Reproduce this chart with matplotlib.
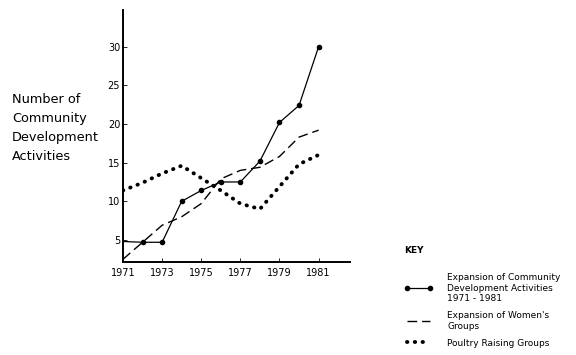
import matplotlib
matplotlib.use('Agg')
import matplotlib.pyplot as plt

# values
years = [1971, 1972, 1973, 1974, 1975, 1976, 1977, 1978, 1979, 1980, 1981]
community = [4.8, 4.7, 4.7, 10.0, 11.4, 12.5, 12.5, 15.2, 20.2, 22.4, 30.0]
womens = [2.5, 4.7, 6.9, 8.0, 9.7, 12.9, 14.0, 14.4, 15.8, 18.3, 19.2]
poultry = [11.4, 12.4, 13.6, 14.6, 13.0, 11.4, 9.7, 9.0, 11.9, 14.8, 16.0]

xticks = [1971, 1973, 1975, 1977, 1979, 1981]
yticks = [5, 10, 15, 20, 25, 30]

fig = plt.figure(figsize=(5.76, 3.55), dpi=100)
ax = fig.add_axes([0.2135, 0.262, 0.394, 0.71])

l1, = ax.plot(years, community, color='black', lw=0.9, marker='o', ms=3,
              markevery=list(range(1, len(years))), clip_on=False)
l2, = ax.plot(years, womens, color='black', lw=1.0, ls=(0, (7, 3.5)))
l3, = ax.plot(years, poultry, color='black', lw=2.8, ls=(0, (0.1, 1.9)),
              dash_capstyle='round')

ax.set_xlim(1971, 1982.6)
ax.set_ylim(2.15, 34.75)
ax.set_xticks(xticks)
ax.set_yticks(yticks)
ax.tick_params(axis='both', labelsize=7, direction='in', length=3, width=0.6, pad=4)
ax.tick_params(axis='y', pad=2)
for s in ['top', 'right']:
    ax.spines[s].set_visible(False)
for s in ['left', 'bottom']:
    ax.spines[s].set_linewidth(1.4)

fig.text(12 / 576, 1 - 93 / 355, 'Number of\nCommunity\nDevelopment\nActivities',
         fontsize=9.3, va='top', ha='left', linespacing=1.6)

leg = fig.legend([l1, l2, l3],
                 ['Expansion of Community\nDevelopment Activities\n1971 - 1981',
                  "Expansion of Women's\nGroups",
                  'Poultry Raising Groups'],
                 loc='upper left', bbox_to_anchor=(396 / 576, 1 - 238 / 355),
                 frameon=False, fontsize=6.5, numpoints=2, handlelength=3.2,
                 handletextpad=1.6, labelspacing=0.9, title='KEY',
                 title_fontproperties={'weight': 'bold', 'size': 6.5},
                 alignment='left')
leg._legend_box.sep = 13

fig.savefig('out.png', dpi=100)
